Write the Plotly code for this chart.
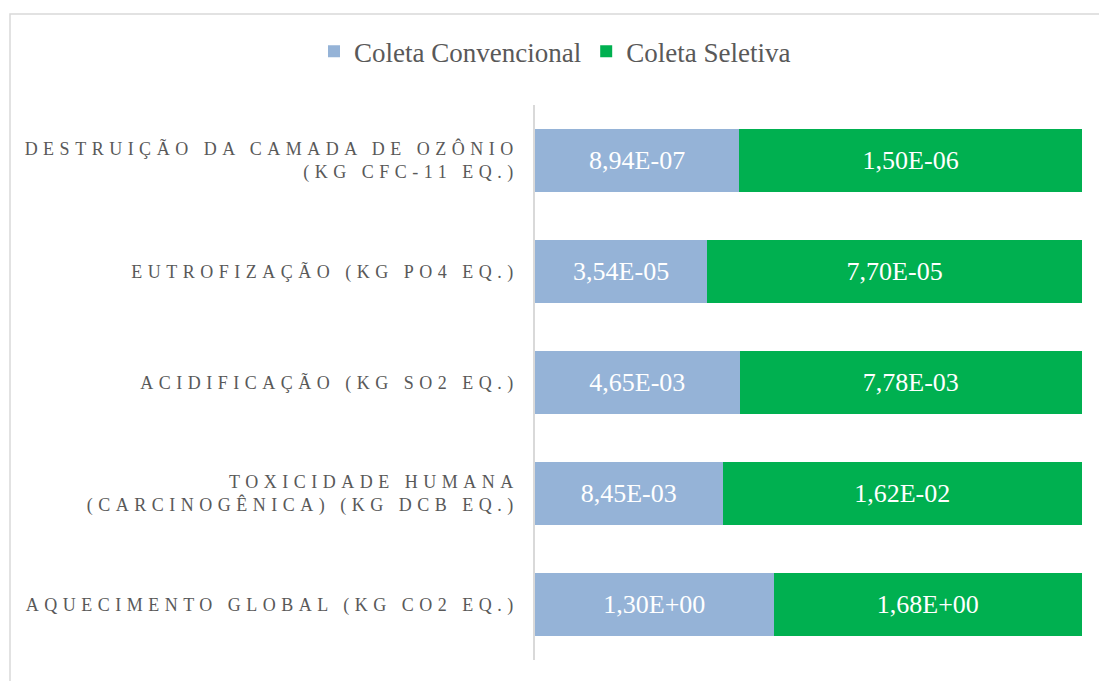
import plotly.graph_objects as go

categories = [
    "DESTRUIÇÃO DA CAMADA DE OZÔNIO<br>(KG CFC-11 EQ.)",
    "EUTROFIZAÇÃO (KG PO4 EQ.)",
    "ACIDIFICAÇÃO (KG SO2 EQ.)",
    "TOXICIDADE HUMANA<br>(CARCINOGÊNICA) (KG DCB EQ.)",
    "AQUECIMENTO GLOBAL (KG CO2 EQ.)",
]
convencional = [8.94e-07, 3.54e-05, 4.65e-03, 8.45e-03, 1.30e+00]
seletiva = [1.50e-06, 7.70e-05, 7.78e-03, 1.62e-02, 1.68e+00]
series_names = ["Coleta Convencional", "Coleta Seletiva"]
colors = ["#95B3D7", "#00B050"]

SERIF = "Liberation Serif, Times New Roman, serif"


def fmt(v):
    return f"{v:.2E}".replace(".", ",")


fig = go.Figure()
for name, vals, col in zip(series_names, [convencional, seletiva], colors):
    fig.add_trace(go.Bar(
        y=categories, x=vals, name=name, orientation="h",
        marker=dict(color=col, line=dict(width=0)),
        text=[fmt(v) for v in vals], textposition="inside",
        insidetextanchor="middle",
        textfont=dict(family=SERIF, size=26, color="white"),
    ))

fig.update_layout(
    barmode="stack", barnorm="percent", bargap=0.44,
    width=1099, height=681,
    margin=dict(l=535, r=17, t=105, b=21),
    paper_bgcolor="white", plot_bgcolor="white",
    font=dict(family=SERIF, color="#595959"),
    legend=dict(orientation="h", xref="container", yref="container",
                x=0.505, y=0.924, xanchor="center", yanchor="middle",
                font=dict(family=SERIF, size=27, color="#595959"),
                traceorder="normal"),
    xaxis=dict(visible=False, range=[0, 100], fixedrange=True),
    yaxis=dict(autorange="reversed", showline=True, linecolor="#d9d9d9",
               linewidth=1.5, ticks="", showgrid=False,
               tickfont=dict(family=SERIF, size=18, color="#595959"),
               ticklabelstandoff=11),
    shapes=[dict(type="rect", xref="paper", yref="paper",
                 x0=(10 - 535) / 547, x1=1.2, y0=-0.3, y1=(660 - 14) / 555,
                 line=dict(color="#d9d9d9", width=1.5), layer="below")],
)

post = ("document.body.style.margin='0';"
        "var s=document.createElement('style');"
        "s.innerHTML='body{margin:0}.ytick text{letter-spacing:5.5px}';"
        "document.head.appendChild(s);")
fig.write_html("out.html", post_script=post, config={"displayModeBar": False})
